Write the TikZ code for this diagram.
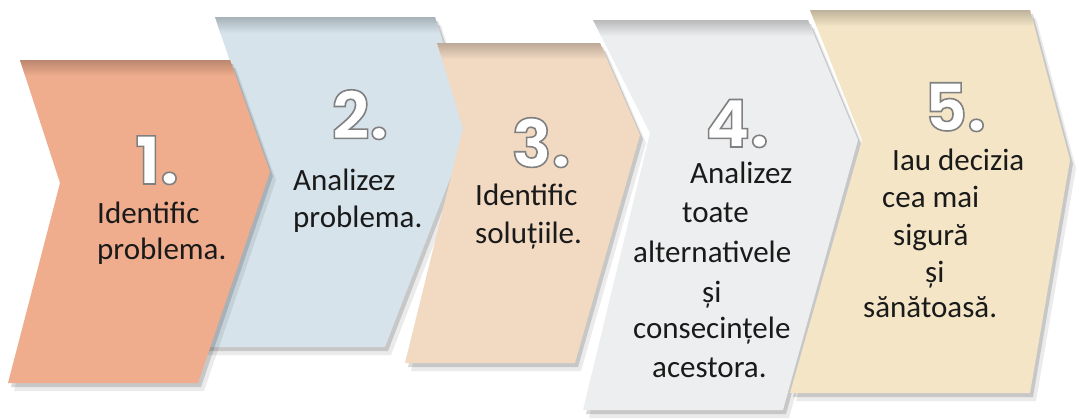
\documentclass[tikz,border=0pt]{standalone}
\usepackage{fontspec}
\setmainfont{Carlito}
\newfontfamily\numfont{Poppins}
\definecolor{csalmon}{HTML}{EFAD8D}
\definecolor{cblue}{HTML}{D6E3EB}
\definecolor{cpeach}{HTML}{F1D9C2}
\definecolor{cgray}{HTML}{EDEEEF}
\definecolor{ccream}{HTML}{F3E5C6}
\definecolor{ink}{HTML}{1A1A1A}
% #1 colour, #2 path, #3 top y of the shape
\newcommand\chevshape[3]{%
  \fill[black,opacity=.08,shift={(6,8)}] #2;
  \fill[black,opacity=.15,shift={(3,4)}] #2;
  \fill[#1] #2;
  \begin{scope}
    \clip #2;
    \shade[top color=black!22!#1, bottom color=#1] (0,#3) rectangle (1079,#3+16);
  \end{scope}}
\newcommand\numlabel[1]{\textcolor{white}{\special{pdf:code 0.5 G 2 Tr 1.6 w}#1\special{pdf:code 0 Tr 0 G 0.4 w}}}
\begin{document}
\begin{tikzpicture}[x=1pt,y=-1pt,
  txt/.style={anchor=base west,inner sep=0pt,text=ink,font=\fontsize{31}{37}\selectfont},
  num/.style={anchor=base,inner sep=0pt,font=\numfont\bfseries\fontsize{66}{66}\selectfont}]
\useasboundingbox[fill=white] (0,0) rectangle (1079,418);
% chevrons (back to front)
\chevshape{cblue}{(215,17) -- (435,17) -- (470,127) -- (385,347) -- (200,347) -- (255,135) -- cycle}{17}
\chevshape{csalmon}{(20,60) -- (230,60) -- (270,172) -- (198,383) -- (8,383) -- (60,183) -- cycle}{60}
\chevshape{cpeach}{(437,43) -- (600,43) -- (640,135) -- (575,363) -- (405,363) -- (463,128) -- cycle}{43}
\chevshape{cgray}{(593,20) -- (808,20) -- (858,140) -- (783,410) -- (583,410) -- (650,133) -- cycle}{20}
\chevshape{ccream}{(810,10) -- (1030,10) -- (1070,160) -- (1030,393) -- (790,393) -- (862,140) -- cycle}{10}
% numbers
\node[num] (n1) at (157,184) {\numlabel{1.}};
\node[num] (n2) at (360,139) {\numlabel{2.}};
\node[num] (n3) at (541,167) {\numlabel{3.}};
\node[num] (n4) at (737,147) {\numlabel{4.}};
\node[num] (n5) at (955,131) {\numlabel{5.}};
% step 1
\node[txt] (t1a) at (97,223) {Identific};
\node[txt] (t1b) at (97,259) {problema.};
% step 2
\node[txt] (t2a) at (293,190) {Analizez};
\node[txt] (t2b) at (293,227) {problema.};
% step 3
\node[txt] (t3a) at (475,205) {Identific};
\node[txt] (t3b) at (475,243) {soluțiile.};
% step 4
\node[txt] (t4a) at (690,183) {Analizez};
\node[txt] (t4b) at (682,222) {toate};
\node[txt] (t4c) at (633,262) {alternativele};
\node[txt] (t4d) at (702,302) {și};
\node[txt] (t4e) at (633,338) {consecințele};
\node[txt] (t4f) at (652,377) {acestora.};
% step 5
\node[txt] (t5a) at (892,170) {Iau decizia};
\node[txt] (t5b) at (882,207) {cea mai};
\node[txt] (t5c) at (893,245) {sigură};
\node[txt] (t5d) at (925,282) {și};
\node[txt] (t5e) at (863,317) {sănătoasă.};
\end{tikzpicture}
\end{document}
